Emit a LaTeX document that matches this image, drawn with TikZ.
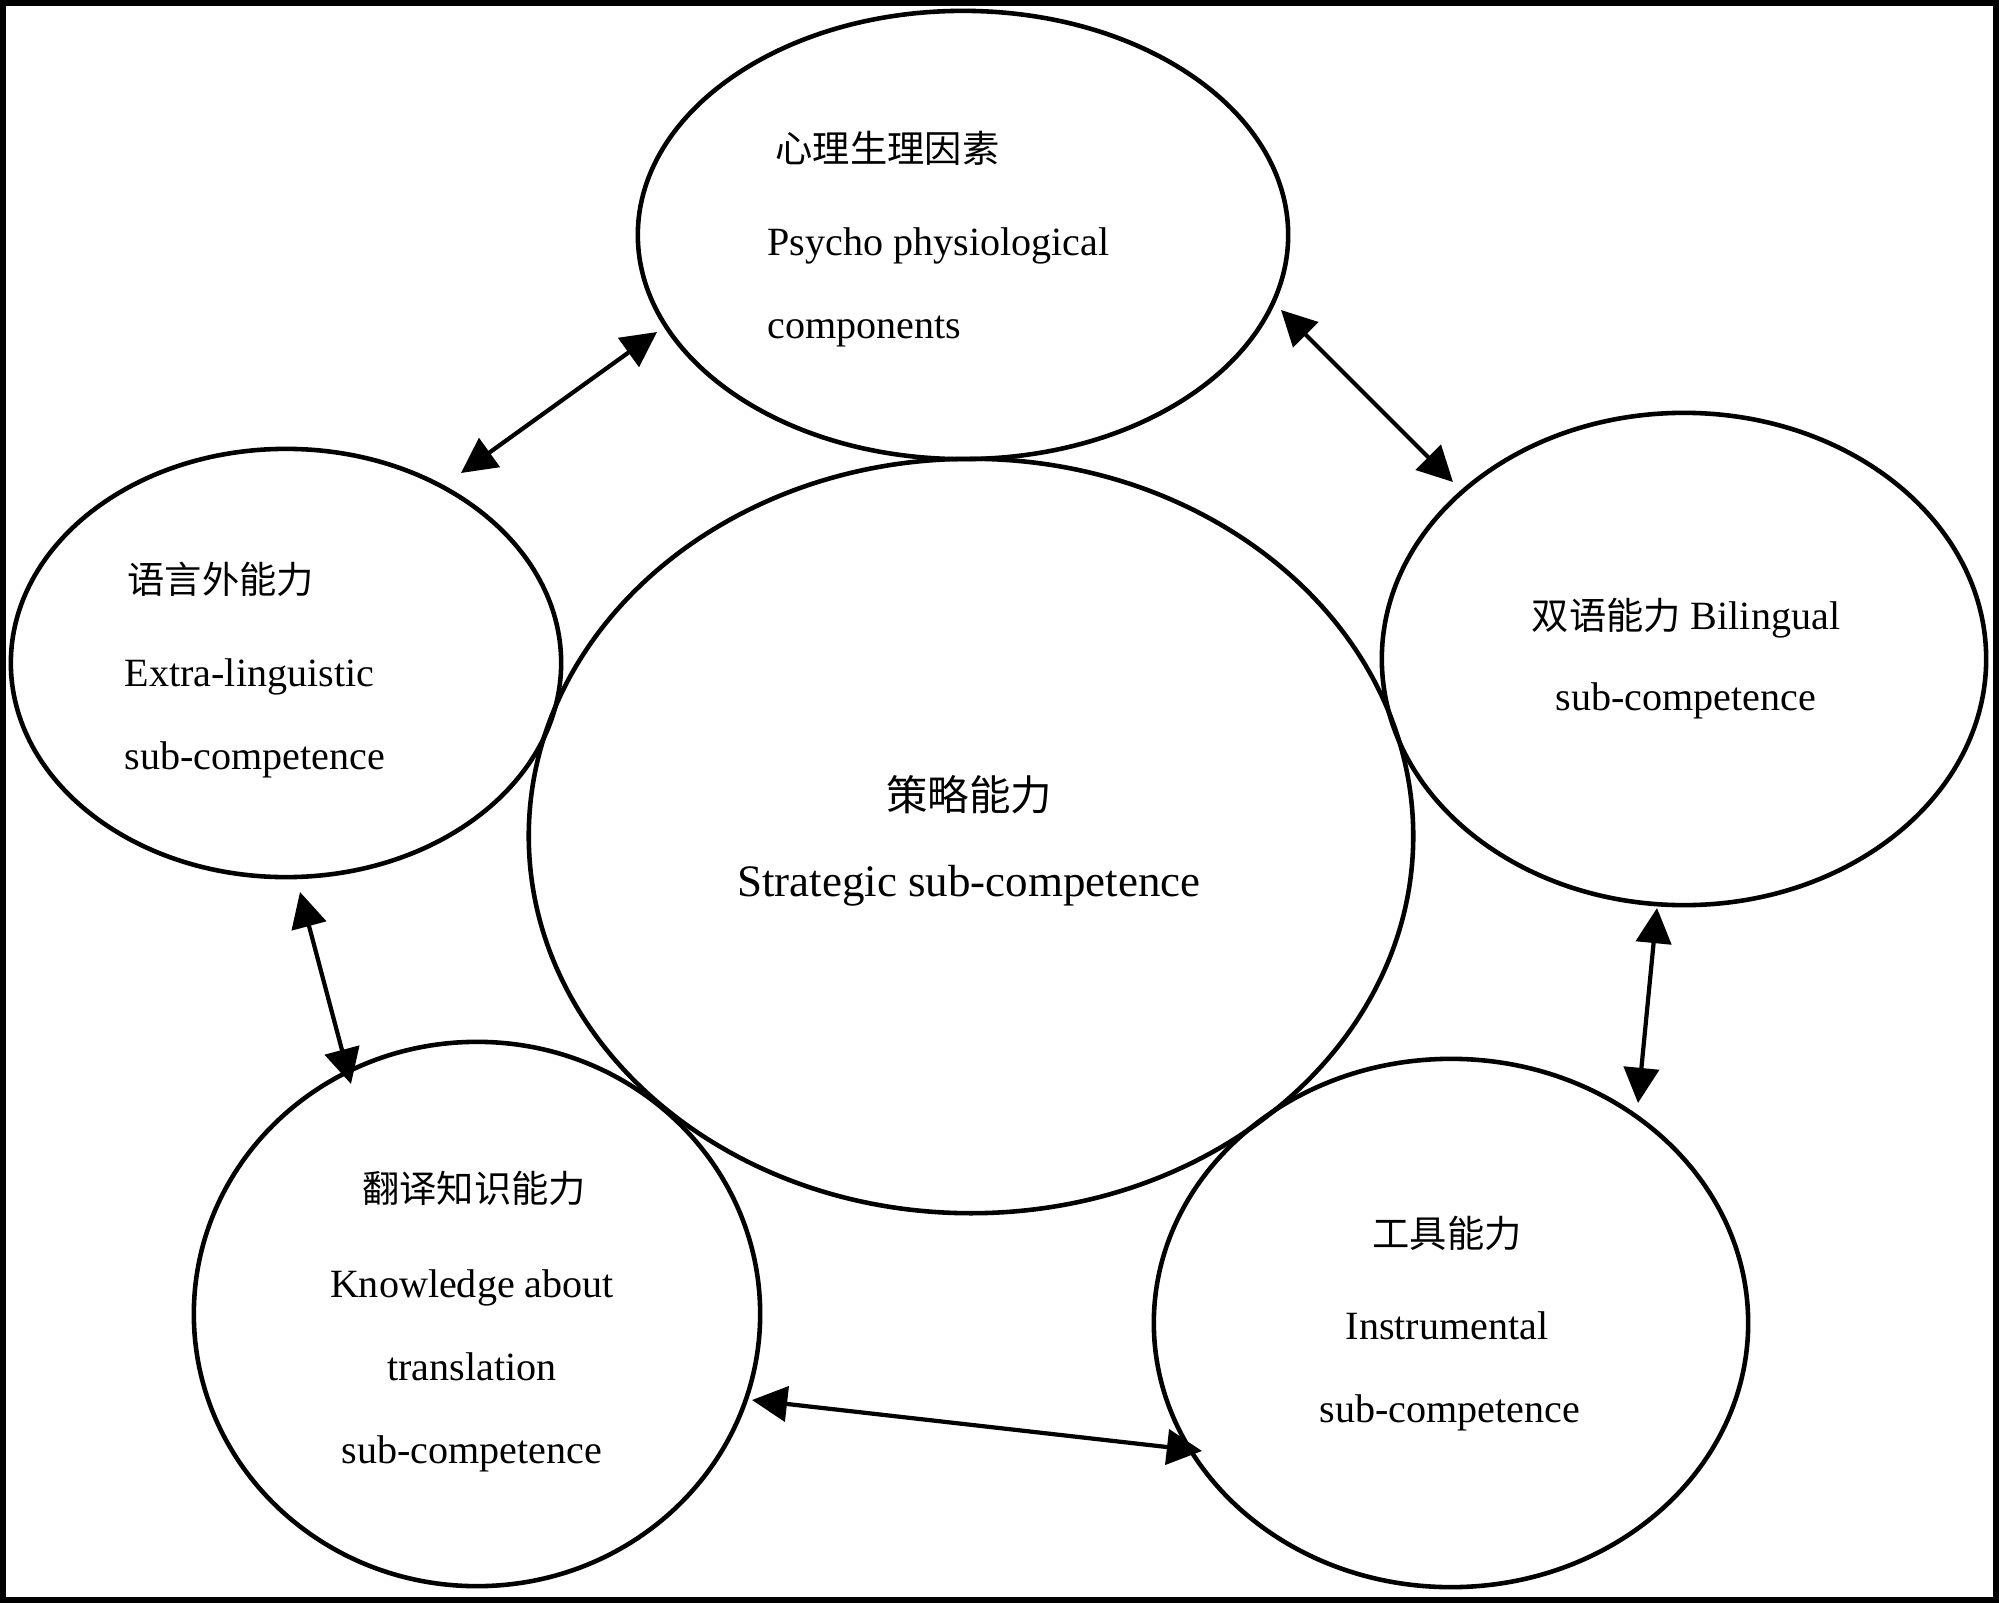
\documentclass[tikz,border=0pt]{standalone}
\usepackage{fontspec}
\setmainfont{Liberation Serif}
\newfontfamily\cjk{Noto Sans CJK SC}
\usetikzlibrary{shapes.geometric,arrows.meta}
\begin{document}
\begin{tikzpicture}[x=0.01cm,y=-0.01cm,
  ell/.style={draw,ellipse,line width=1.3pt,inner sep=0pt},
  lbl/.style={font=\fontsize{11.4}{13}\selectfont,inner sep=0pt},
  big/.style={font=\fontsize{12.8}{15}\selectfont,inner sep=0pt},
  cj/.style={font=\cjk\fontsize{10.6}{13}\selectfont,inner sep=0pt},
  cjbig/.style={font=\cjk\fontsize{11.8}{14}\selectfont,inner sep=0pt},
  link/.style={line width=1.2pt,{Triangle[length=10pt,width=10pt]}-{Triangle[length=10pt,width=10pt]}}]
\useasboundingbox (0,0) rectangle (1999,1603);
\draw[line width=1.7pt] (3,3) rectangle (1996,1600);

% ellipses
\node[ell,minimum width=6.50cm,minimum height=4.48cm] (psy) at (963,235) {};
\node[ell,minimum width=5.50cm,minimum height=4.28cm] (extra) at (286,663) {};
\node[ell,minimum width=8.84cm,minimum height=7.54cm] (strat) at (971,836) {};
\node[ell,minimum width=6.04cm,minimum height=4.92cm] (biling) at (1684,659) {};
\node[ell,minimum width=5.66cm,minimum height=5.44cm] (know) at (477,1314) {};
\node[ell,minimum width=5.94cm,minimum height=5.28cm] (instr) at (1451,1323) {};

% texts
\node[cj,anchor=mid west] (t1a) at (775,154) {心理生理因素};
\node[lbl,anchor=mid west] (t1b) at (767,247) {Psycho physiological};
\node[lbl,anchor=mid west] (t1c) at (767,330) {components};

\node[cj,anchor=mid west] (t2a) at (127,585) {语言外能力};
\node[lbl,anchor=mid west] (t2b) at (124,678) {Extra-linguistic};
\node[lbl,anchor=mid west] (t2c) at (124,761) {sub-competence};

\node[cjbig,anchor=mid] (t3a) at (969,802) {策略能力};
\node[big,anchor=mid] (t3b) at (969,888) {Strategic sub-competence};

\node[lbl,anchor=mid] (t4a) at (1686,621) {{\cjk\fontsize{10.6}{13}\selectfont 双语能力} Bilingual};
\node[lbl,anchor=mid] (t4b) at (1686,702) {sub-competence};

\node[cj,anchor=mid] (t5a) at (474,1194) {翻译知识能力};
\node[lbl,anchor=mid] (t5b) at (472,1289) {Knowledge about};
\node[lbl,anchor=mid] (t5c) at (472,1372) {translation};
\node[lbl,anchor=mid] (t5d) at (472,1455) {sub-competence};

\node[cj,anchor=mid] (t6a) at (1447,1239) {工具能力};
\node[lbl,anchor=mid] (t6b) at (1447,1331) {Instrumental};
\node[lbl,anchor=mid] (t6c) at (1450,1414) {sub-competence};

% connector ends
\coordinate (a1) at (657,332);
\coordinate (b1) at (461,473);
\coordinate (a2) at (1281,310);
\coordinate (b2) at (1453,482);
\coordinate (a3) at (1657,908);
\coordinate (b3) at (1638,1103);
\coordinate (a4) at (752,1400);
\coordinate (b4) at (1202,1451);
\coordinate (a5) at (300,892);
\coordinate (b5) at (351,1084);

\draw[link] (b1) -- (a1);
\draw[link] (a2) -- (b2);
\draw[link] (a3) -- (b3);
\draw[link] (a4) -- (b4);
\draw[link] (a5) -- (b5);
\end{tikzpicture}
\end{document}
